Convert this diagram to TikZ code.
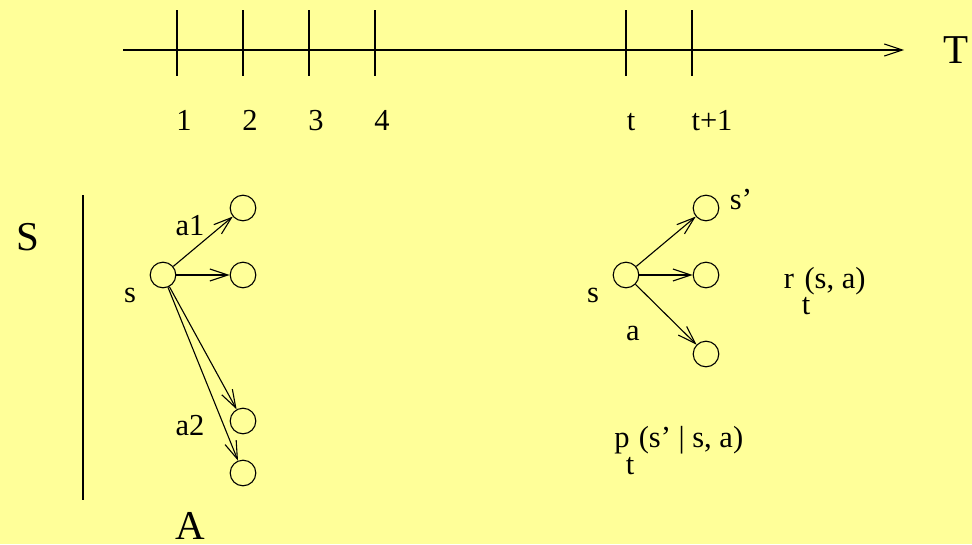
\documentclass[tikz,border=0pt]{standalone}
\usepackage{fontspec}
\setmainfont{Liberation Serif}
\usetikzlibrary{arrows.meta}
\definecolor{bgyellow}{RGB}{255,255,153}
\begin{document}
\begin{tikzpicture}[x=1pt,y=-1pt,
  every path/.style={line width=1.1pt},
  lbl/.style={inner sep=0pt,anchor=base,font=\fontsize{30.5}{36}\selectfont},
  big/.style={inner sep=0pt,anchor=base,font=\fontsize{41}{48}\selectfont},
  st/.style={circle,draw,line width=1.1pt,minimum size=25.6pt,inner sep=0pt},
  arr/.style={-{Straight Barb[length=18pt,width=12pt,line width=1.1pt]}},
  tick/.style={line width=1.1pt}]
\fill[bgyellow] (0,0) rectangle (972,544);
\useasboundingbox (0,0) rectangle (972,544);
% timeline
\coordinate (tl0) at (123,50);
\coordinate (tl1) at (904,50);
\draw[arr] (tl0) -- (tl1);
\foreach \x/\n in {177/a,243/b,309/c,375/d,626/e,692/f}{
  \coordinate (tk\n0) at (\x,10);
  \coordinate (tk\n1) at (\x,76);
  \draw[tick] (tk\n0) -- (tk\n1);
}
\node[lbl] (l1) at (184,130) {1};
\node[lbl] (l2) at (250,130) {2};
\node[lbl] (l3) at (316,130) {3};
\node[lbl] (l4) at (382,130) {4};
\node[lbl] (lt) at (631,130) {t};
\node[lbl] (ltp) at (712,130) {t+1};
\node[big] (T) at (956,63) {T};
% left axis
\coordinate (va0) at (83,195);
\coordinate (va1) at (83,500);
\draw (va0) -- (va1);
\node[big] (S) at (28,250) {S};
\node[big] (A) at (190,539) {A};
% left graph
\node[st] (sL) at (163,275) {};
\node[st] (L1) at (243,208) {};
\node[st] (L2) at (243,275) {};
\node[st] (L3) at (243,421) {};
\node[st] (L4) at (243,473) {};
\draw[arr] (sL) -- (L1);
\draw[arr] (sL) -- (L2);
\draw[arr] (sL) -- (L3);
\draw[arr] (sL) -- (L4);
\node[lbl] (sLl) at (130,302) {s};
\node[lbl] (a1) at (190,235) {a1};
\node[lbl] (a2) at (190,435) {a2};
% right graph
\node[st] (sR) at (626,275) {};
\node[st] (R1) at (706,208) {};
\node[st] (R2) at (706,275) {};
\node[st] (R3) at (706,354) {};
\draw[arr] (sR) -- (R1);
\draw[arr] (sR) -- (R2);
\draw[arr] (sR) -- (R3);
\node[lbl] (sRl) at (593,302) {s};
\node[lbl] (spr) at (741,209) {s’};
\node[lbl] (aR) at (633,340) {a};
\node[lbl] (rr) at (789,288) {r};
\node[lbl] (rarg) at (835,288) {(s, a)};
\node[lbl] (rt) at (806,314) {t};
\node[lbl] (pp) at (622,447) {p};
\node[lbl] (parg) at (691,447) {(s’ | s, a)};
\node[lbl] (pt) at (630,474) {t};
\end{tikzpicture}
\end{document}
